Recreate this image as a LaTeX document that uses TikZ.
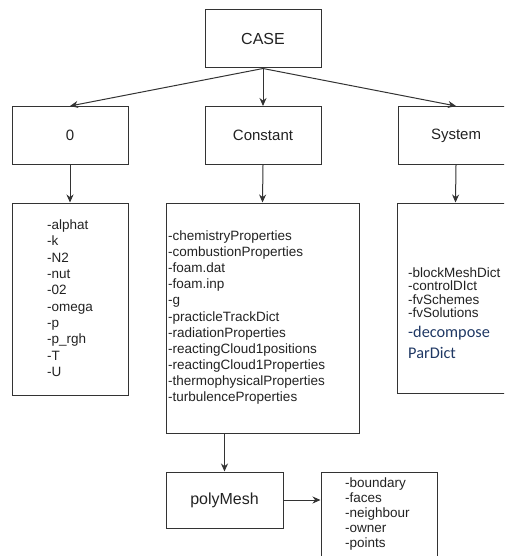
\documentclass[tikz,border=0pt]{standalone}
\usepackage{fontspec}
\setmainfont{Liberation Sans}
\newfontfamily\calfont{Carlito}
\usetikzlibrary{arrows.meta}
\definecolor{linegray}{HTML}{333333}
\definecolor{txtgray}{HTML}{222222}
\definecolor{navytxt}{HTML}{1F3864}
\tikzset{folder/.style={draw=linegray,line width=1pt,minimum width=116pt,minimum height=58pt,inner sep=0pt,text=txtgray},
 filebox/.style={draw=linegray,line width=1pt,inner sep=0pt},
 entry/.style={anchor=base west,inner sep=0pt,text=txtgray,font=\fontsize{13.5}{16}\selectfont},
 arrow/.style={-{Stealth[length=8pt,width=7pt]},line width=1pt,draw=linegray}}

\begin{document}
\begin{tikzpicture}[x=1pt,y=-1pt]
 \path[use as bounding box] (0,0) rectangle (504,556);
 \clip (0,0) rectangle (504,556);
 % folders
 \node[folder,font=\fontsize{16}{19}\selectfont] (case) at (263,39) {CASE};
 \node[folder,font=\fontsize{15}{18}\selectfont] (zero) at (70,135.5) {0};
 \node[folder,font=\fontsize{15}{18}\selectfont] (const) at (263,135.5) {Constant};
 \node[folder,font=\fontsize{15}{18}\selectfont] (sys) at (456,135.5) {System};
 \node[folder,font=\fontsize{16}{19}\selectfont,minimum width=117pt,minimum height=56pt] (pmesh) at (224.5,500) {polyMesh};
 % file lists
 \node[filebox,minimum width=116pt,minimum height=192pt] (zlist) at (70,299) {};
 \node[filebox,minimum width=193pt,minimum height=230pt] (clist) at (262.5,318) {};
 \node[filebox,minimum width=117pt,minimum height=190pt] (slist) at (455.5,298) {};
 \node[filebox,minimum width=116pt,minimum height=110pt] (plist) at (379,527) {};
 \foreach \t [count=\i] in {-alphat,-k,-N2,-nut,-02,-omega,-p,-p\_rgh,-T,-U}
  \node[entry] (z\i) at (47,229.5+16.33*\i-16.33) {\t};
 \foreach \t [count=\i] in {-chemistryProperties,-combustionProperties,-foam.dat,-foam.inp,-g,
  -practicleTrackDict,-radiationProperties,-reactingCloud1positions,-reactingCloud1Properties,
  -thermophysicalProperties,-turbulenceProperties}
  \node[entry] (c\i) at (168,240.5+16.1*\i-16.1) {\t};
 \foreach \t [count=\i] in {-blockMeshDict,-controlDIct,-fvSchemes,-fvSolutions}
  \node[entry] (s\i) at (408,277.5+13.3*\i-13.3) {\t};
 \node[entry,text=navytxt,font=\calfont\fontsize{16.3}{21}\selectfont] (s5) at (408,337) {-decompose};
 \node[entry,text=navytxt,font=\calfont\fontsize{16.3}{21}\selectfont] (s6) at (408,358) {ParDict};
 \foreach \t [count=\i] in {-boundary,-faces,-neighbour,-owner,-points}
  \node[entry] (p\i) at (345,487.5+15*\i-15) {\t};
 % arrows
 \draw[arrow] (case.south) -- (zero.north);
 \draw[arrow] (case.south) -- (const.north);
 \draw[arrow] (case.south) -- (sys.north);
 \draw[arrow] (zero.south) -- (zlist.north);
 \draw[arrow] (const.south) -- (clist.north);
 \draw[arrow] (sys.south) -- (slist.north);
 \draw[arrow] (pmesh.north |- clist.south) -- (pmesh.north);
 \draw[arrow] (pmesh.east) -- (plist.west |- pmesh.east);
\end{tikzpicture}
\end{document}
